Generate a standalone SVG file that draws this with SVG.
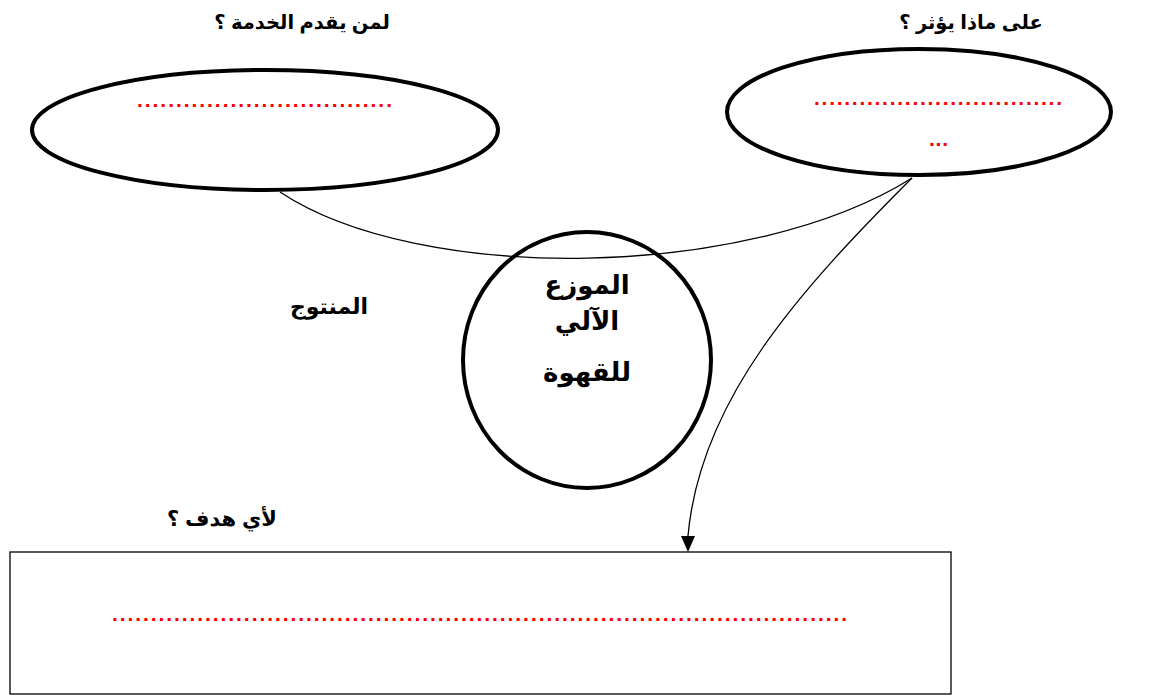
<svg xmlns="http://www.w3.org/2000/svg" width="1153" height="696" viewBox="0 0 1153 696">
<style>
.shape{fill:#fff;stroke:#000;stroke-width:4}
.box{fill:#fff;stroke:#000;stroke-width:1.3}
.lbl{font-family:"Liberation Sans","DejaVu Sans",sans-serif;font-weight:bold;fill:#000;text-anchor:middle}
.dots{font-family:"Liberation Sans",sans-serif;font-weight:bold;fill:#ff0000;font-size:21px}
.conn{fill:none;stroke:#000;stroke-width:1.3}
</style>
<g id="box-goal">
<rect class="box" x="10" y="552" width="941" height="142"/>
<text class="dots" x="112" y="621" textLength="735" lengthAdjust="spacing">...............................................................................................</text>
</g>
<g id="connectors">
<path class="conn" d="M280,192 C420,285 750,280 912,178"/>
<path class="conn" d="M912,178 C800,290 700,400 688,536"/>
<path d="M681,536 L695,536 L688,552 Z" fill="#000"/>
</g>
<g id="node-provider">
<ellipse class="shape" cx="265" cy="130" rx="233" ry="60" fill-opacity="0"/>
<text class="dots" x="137" y="107" textLength="255" lengthAdjust="spacing">.................................</text>
</g>
<g id="node-effect">
<ellipse class="shape" cx="919" cy="112" rx="192" ry="63" fill-opacity="0"/>
<text class="dots" x="814" y="105" textLength="248" lengthAdjust="spacing">.................................</text>
<text class="dots" x="929" y="146" textLength="19" lengthAdjust="spacing">...</text>
</g>
<g id="node-product">
<ellipse class="shape" cx="587" cy="360" rx="124" ry="128" fill-opacity="0"/>
<text class="lbl" direction="rtl" x="587" y="294" font-size="26">الموزع</text>
<text class="lbl" direction="rtl" x="587" y="330" font-size="26">الآلي</text>
<text class="lbl" direction="rtl" x="587" y="381" font-size="26">للقهوة</text>
</g>
<g id="labels">
<text class="lbl" direction="rtl" x="302" y="29" font-size="19.5">لمن يقدم الخدمة ؟</text>
<text class="lbl" direction="rtl" x="971" y="29" font-size="19.5">على ماذا يؤثر ؟</text>
<text class="lbl" direction="rtl" x="329" y="314" font-size="22">المنتوج</text>
<text class="lbl" direction="rtl" x="222" y="526" font-size="21">لأي  هدف ؟</text>
</g>
</svg>
